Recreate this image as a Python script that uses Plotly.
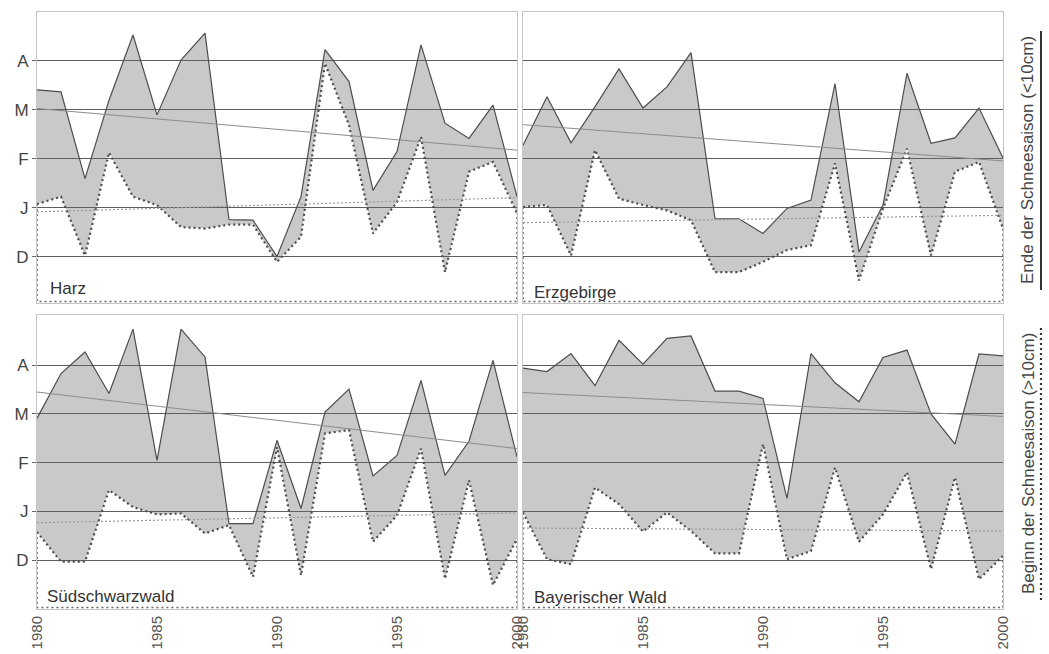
import plotly.graph_objects as go

W, H = 1049, 654

years = list(range(1980, 2001))
month_ticks = [0, 1, 2, 3, 4]
month_labels = ["D", "J", "F", "M", "A"]
year_ticks = [1980, 1985, 1990, 1995, 2000]

regions = ["Harz", "Erzgebirge", "Südschwarzwald", "Bayerischer Wald"]

# End of snow season (<10cm), month index (D=0, J=1, F=2, M=3, A=4)
harz_end = [3.41, 3.37, 1.60, 3.20, 4.53, 2.90, 4.02, 4.57, 0.76, 0.75, 0.01,
            1.23, 4.23, 3.58, 1.36, 2.15, 4.33, 2.73, 2.42, 3.10, 1.23]
erz_end = [2.28, 3.27, 2.33, 3.07, 3.84, 3.04, 3.47, 4.17, 0.78, 0.78, 0.48,
           0.99, 1.16, 3.54, 0.10, 1.06, 3.75, 2.32, 2.43, 3.04, 2.02]
sued_end = [2.91, 3.83, 4.27, 3.42, 4.74, 2.05, 4.74, 4.17, 0.75, 0.75, 2.46,
            1.06, 3.04, 3.51, 1.73, 2.15, 3.69, 1.74, 2.44, 4.10, 2.12]
bay_end = [3.94, 3.87, 4.24, 3.58, 4.51, 4.02, 4.55, 4.60, 3.47, 3.47, 3.32,
           1.27, 4.24, 3.64, 3.25, 4.16, 4.31, 3.00, 2.38, 4.23, 4.19]

# Begin of snow season (>10cm)
harz_begin = [1.08, 1.23, 0.03, 2.13, 1.23, 1.06, 0.61, 0.58, 0.66, 0.66, -0.10,
              0.41, 3.95, 2.69, 0.48, 1.12, 2.45, -0.31, 1.74, 1.94, 0.89]
erz_begin = [1.02, 1.06, 0.03, 2.18, 1.19, 1.06, 0.95, 0.75, -0.31, -0.31, -0.10,
             0.14, 0.24, 1.91, -0.48, 0.99, 2.21, 0.03, 1.74, 1.94, 0.58]
sued_begin = [0.58, -0.03, -0.03, 1.44, 1.09, 0.94, 0.96, 0.55, 0.72, -0.34, 2.32,
              -0.31, 2.60, 2.67, 0.38, 0.92, 2.29, -0.38, 1.64, -0.51, 0.44]
bay_begin = [0.98, 0.02, -0.08, 1.49, 1.15, 0.59, 0.98, 0.60, 0.14, 0.14, 2.38,
             0.02, 0.19, 1.90, 0.38, 0.94, 1.80, -0.18, 1.70, -0.39, 0.09]

# Linear trend endpoints (1980, 2000)
harz_trend_end = [3.03, 2.18]
erz_trend_end = [2.70, 1.96]
sued_trend_end = [3.45, 2.29]
bay_trend_end = [3.44, 2.95]
harz_trend_begin = [0.92, 1.21]
erz_trend_begin = [0.70, 0.85]
sued_trend_begin = [0.77, 0.97]
bay_trend_begin = [0.66, 0.60]

ends = [harz_end, erz_end, sued_end, bay_end]
begins = [harz_begin, erz_begin, sued_begin, bay_begin]
trend_ends = [harz_trend_end, erz_trend_end, sued_trend_end, bay_trend_end]
trend_begins = [harz_trend_begin, erz_trend_begin, sued_trend_begin, bay_trend_begin]

FONT = "Liberation Sans, Arial, sans-serif"
FILL = "rgba(100,100,100,0.35)"
LINE = "#4d4d4d"
GRID = "#5e5e5e"


def px_x(p):
    return p / W


def px_y(p):
    return 1 - p / H


# panel geometry in pixels: (left, right, top, bottom)
panels = [(37, 517, 12, 303), (523, 1003, 12, 303),
          (37, 517, 315, 609), (523, 1003, 315, 609)]
yranges = [[-0.94, 5.0], [-0.94, 5.0], [-1.0, 5.03], [-1.0, 5.03]]
label_pos = [(48, 287), (532, 291), (45, 595), (532, 596)]

fig = go.Figure()
layout = dict(width=W, height=H, margin=dict(l=0, r=0, t=0, b=0),
              paper_bgcolor="white", plot_bgcolor="white",
              showlegend=False, font=dict(family=FONT, color="#333"))
annotations = []
shapes = []

for i in range(4):
    n = i + 1
    xa = "x" if n == 1 else f"x{n}"
    ya = "y" if n == 1 else f"y{n}"
    bot = yranges[i][0] + 0.03
    # begin line (lower, dotted)
    fig.add_trace(go.Scatter(x=years, y=begins[i], xaxis=xa, yaxis=ya, mode="lines",
                             line=dict(color=LINE, width=2.2, dash="2px,3px"),
                             hoverinfo="skip"))
    # end line (upper) filling down to begin line
    fig.add_trace(go.Scatter(x=years, y=ends[i], xaxis=xa, yaxis=ya, mode="lines",
                             fill="tonexty", fillcolor=FILL,
                             line=dict(color=LINE, width=1.2), hoverinfo="skip"))
    # dotted closure edges of the begin-series area
    fig.add_trace(go.Scatter(x=[years[0], years[0], years[-1], years[-1]],
                             y=[begins[i][0], bot, bot, begins[i][-1]],
                             xaxis=xa, yaxis=ya, mode="lines",
                             line=dict(color="#666", width=1.6, dash="2px,3px"),
                             hoverinfo="skip"))
    # trend lines
    fig.add_trace(go.Scatter(x=[years[0], years[-1]], y=trend_ends[i], xaxis=xa, yaxis=ya,
                             mode="lines", line=dict(color="#8c8c8c", width=1),
                             hoverinfo="skip"))
    fig.add_trace(go.Scatter(x=[years[0], years[-1]], y=trend_begins[i], xaxis=xa, yaxis=ya,
                             mode="lines", line=dict(color="#9a9a9a", width=1.2, dash="2px,2px"),
                             hoverinfo="skip"))

    l, r, t, b = panels[i]
    left_col = i in (0, 2)
    bottom_row = i in (2, 3)
    xkey = "xaxis" if n == 1 else f"xaxis{n}"
    ykey = "yaxis" if n == 1 else f"yaxis{n}"
    layout[xkey] = dict(domain=[px_x(l), px_x(r)], range=[1980, 2000], anchor=ya,
                        showgrid=False, zeroline=False, showline=True, mirror=True,
                        linecolor="#c4c4c4", linewidth=1, automargin=False,
                        tickvals=year_ticks, ticktext=[str(v) for v in year_ticks],
                        showticklabels=bottom_row, tickangle=-90, ticks="",
                        tickfont=dict(family=FONT, size=15, color="#555"))
    layout[ykey] = dict(domain=[px_y(b), px_y(t)], range=yranges[i], anchor=xa,
                        showgrid=True, gridcolor=GRID, gridwidth=1, zeroline=False,
                        showline=True, mirror=True, linecolor="#c4c4c4", linewidth=1,
                        automargin=False,
                        tickvals=month_ticks, ticktext=month_labels,
                        showticklabels=left_col,
                        ticks="outside" if left_col else "", ticklen=4, tickcolor="#666",
                        tickfont=dict(family=FONT, size=17, color="#444"))
    lx, ly = label_pos[i]
    annotations.append(dict(text=regions[i], xref="paper", yref="paper",
                            x=px_x(lx), y=px_y(ly + 1), xanchor="left", yanchor="middle",
                            showarrow=False, font=dict(family=FONT, size=17, color="#333")))

# Right-hand legend labels (rotated) with line samples
annotations.append(dict(text="Ende der Schneesaison (&lt;10cm)", xref="paper", yref="paper",
                        x=px_x(1028), y=px_y(160), xanchor="center", yanchor="middle",
                        textangle=-90, showarrow=False,
                        font=dict(family=FONT, size=17, color="#444")))
annotations.append(dict(text="Beginn der Schneesaison (&gt;10cm)", xref="paper", yref="paper",
                        x=px_x(1028), y=px_y(464), xanchor="center", yanchor="middle",
                        textangle=-90, showarrow=False,
                        font=dict(family=FONT, size=17, color="#444")))
shapes.append(dict(type="line", xref="paper", yref="paper",
                   x0=px_x(1041), x1=px_x(1041), y0=px_y(31), y1=px_y(290),
                   line=dict(color="#333", width=2)))
shapes.append(dict(type="line", xref="paper", yref="paper",
                   x0=px_x(1041), x1=px_x(1041), y0=px_y(328), y1=px_y(600),
                   line=dict(color="#333", width=2.2, dash="2px,3px")))

layout["annotations"] = annotations
layout["shapes"] = shapes
fig.update_layout(**layout)

fig.write_html("out.html")
